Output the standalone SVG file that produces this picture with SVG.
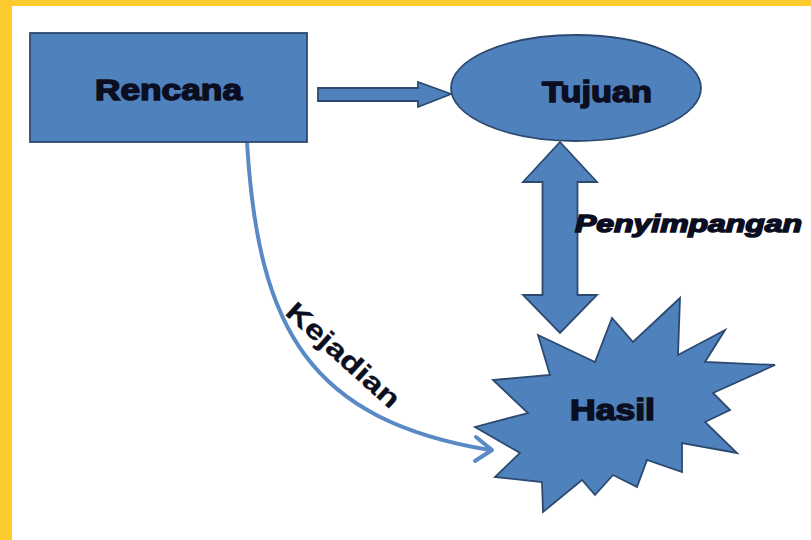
<svg xmlns="http://www.w3.org/2000/svg" width="811" height="540" viewBox="0 0 811 540">
<style>
.shape{fill:#4F81BD;stroke:#2C4A70;stroke-width:1.8;stroke-linejoin:miter}
.lbl{font-family:"Liberation Sans",Arial,sans-serif;font-weight:bold;fill:#0B0D20;stroke:#0B0D20;stroke-width:1.5;}
.conn{fill:none;stroke:#5A8AC6;stroke-width:4;stroke-linecap:round;stroke-linejoin:round}
</style>
<rect x="0" y="0" width="811" height="540" fill="#FFFFFF"/>
<rect x="0" y="0" width="811" height="6" fill="#FDCB2E"/>
<rect x="0" y="0" width="12" height="540" fill="#FDCB2E"/>
<g id="connectors">
<polygon class="shape" points="318,88 418,88 418,82 451,94 418,107 418,101 318,101"/>
<polygon class="shape" points="560,142 597,182 577.5,182 577.5,295 597,295 560,333 523,295 542.5,295 542.5,182 523,182"/>
<path class="conn" d="M247,142 C258,330 310,420 490,450"/>
<polyline class="conn" points="476,437 492,450 475,461"/>
<text class="lbl" style="stroke-width:0.3" font-size="27" transform="translate(284,314) rotate(42)" textLength="143" lengthAdjust="spacingAndGlyphs">Kejadian</text>
<text class="lbl" font-size="24" font-style="italic" x="575" y="232" textLength="227" lengthAdjust="spacingAndGlyphs">Penyimpangan</text>
</g>
<g id="rencana">
<rect class="shape" x="30" y="33" width="277" height="109"/>
<text class="lbl" font-size="30" x="95" y="100" textLength="147" lengthAdjust="spacingAndGlyphs">Rencana</text>
</g>
<g id="tujuan">
<ellipse class="shape" cx="576" cy="88" rx="125" ry="53"/>
<text class="lbl" font-size="30" x="542" y="102" textLength="110" lengthAdjust="spacingAndGlyphs">Tujuan</text>
</g>
<g id="hasil">
<polygon class="shape" points="538,335 595,362 612,318 633,342 680,298 678,355 725,330 705,362 775,365 713,393 730,410 705,422 737,453 682,443 682,472 647,460 637,487 613,475 595,495 582,480 543,512 542,482 495,477 520,453 475,427 528,413 493,380 550,375"/>
<text class="lbl" font-size="30" x="570" y="420" textLength="85" lengthAdjust="spacingAndGlyphs">Hasil</text>
</g>
</svg>
